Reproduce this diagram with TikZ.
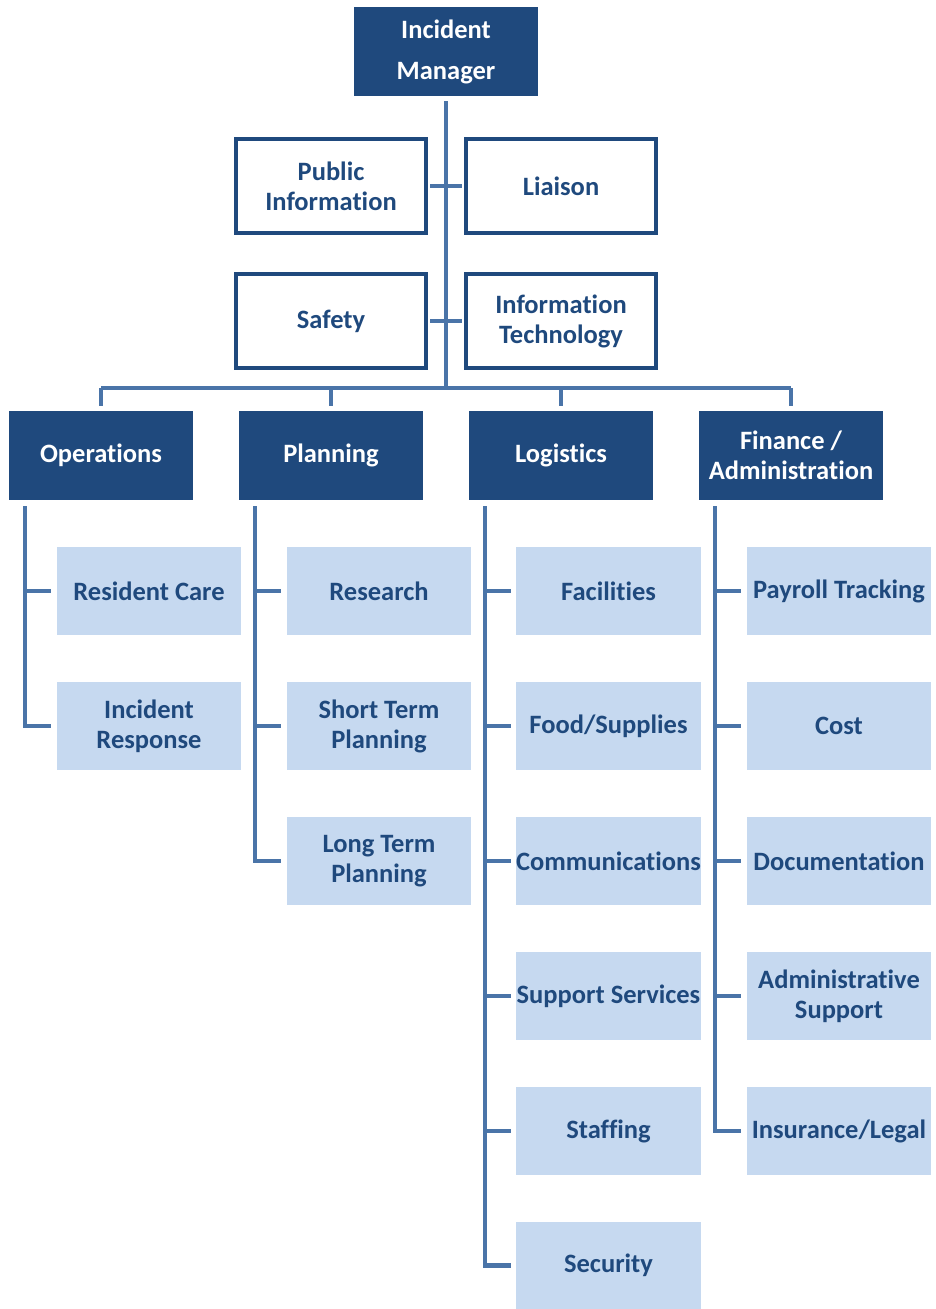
\documentclass[tikz,border=0pt]{standalone}
\usepackage{fontspec}
\setmainfont{Carlito}[Ligatures=NoCommon]
\definecolor{dkblue}{RGB}{31,73,125}
\definecolor{lnblue}{RGB}{74,116,168}
\definecolor{ltblue}{RGB}{198,217,240}
\tikzset{
  base/.style={font=\bfseries\fontsize{26.5}{30}\selectfont, align=center, inner sep=0pt},
  topbox/.style={base, fill=dkblue, text=white, minimum width=184pt, minimum height=89pt},
  staffbox/.style={base, draw=dkblue, line width=4pt, fill=white, text=dkblue, minimum width=190pt, minimum height=94pt},
  secbox/.style={base, fill=dkblue, text=white, minimum width=184pt, minimum height=89pt},
  subbox/.style={base, fill=ltblue, text=dkblue, minimum width=184pt, minimum height=88pt},
  conn/.style={draw=lnblue, line width=4.5pt},
}
\begin{document}
\begin{tikzpicture}[x=1pt,y=-1pt]
\useasboundingbox (0,0) rectangle (935,1309);
% top
\node[topbox, font=\bfseries\fontsize{26.5}{41}\selectfont] (im) at (446,51.5) {Incident\\Manager};
% staff
\node[staffbox] (pi) at (331,186) {Public\\Information};
\node[staffbox] (li) at (561,186) {Liaison};
\node[staffbox] (sa) at (331,321) {Safety};
\node[staffbox] (it) at (561,321) {Information\\Technology};
% sections
\node[secbox] (ops) at (101,455.5) {Operations};
\node[secbox] (pla) at (331,455.5) {Planning};
\node[secbox] (log) at (561,455.5) {Logistics};
\node[secbox] (fin) at (791,455.5) {Finance /\\Administration};
% subs
\node[subbox] (o1) at (149,591) {Resident Care};
\node[subbox] (o2) at (149,726) {Incident\\Response};
\node[subbox] (p1) at (379,591) {Research};
\node[subbox] (p2) at (379,726) {Short Term\\Planning};
\node[subbox] (p3) at (379,861) {Long Term\\Planning};
\node[subbox, minimum width=185pt] (l1) at (608.5,591) {Facilities};
\node[subbox, minimum width=185pt] (l2) at (608.5,726) {Food/Supplies};
\node[subbox, minimum width=185pt] (l3) at (608.5,861) {Communications};
\node[subbox, minimum width=185pt] (l4) at (608.5,996) {Support Services};
\node[subbox, minimum width=185pt] (l5) at (608.5,1131) {Staffing};
\node[subbox, minimum width=185pt, minimum height=87pt] (l6) at (608.5,1265.5) {Security};
\node[subbox] (f1) at (839,591) {Payroll Tracking};
\node[subbox] (f2) at (839,726) {Cost};
\node[subbox] (f3) at (839,861) {Documentation};
\node[subbox] (f4) at (839,996) {Administrative\\Support};
\node[subbox] (f5) at (839,1131) {Insurance/Legal};
% connectors
\coordinate (bus) at (446,388);
\draw[conn, shorten <=5pt] (im.south) -- (bus);
\draw[conn, shorten <=2pt, shorten >=2pt] (pi.east) -- (li.west);
\draw[conn, shorten <=2pt, shorten >=2pt] (sa.east) -- (it.west);
\draw[conn] (ops.north |- bus) -- (fin.north |- bus);
\foreach \s in {ops,pla,log,fin}
  \draw[conn, shorten >=5pt] (\s.north |- bus) -- (\s.north);
\coordinate (opsv) at ([xshift=16pt,yshift=-6pt]ops.south west);
\coordinate (plav) at ([xshift=16pt,yshift=-6pt]pla.south west);
\coordinate (logv) at ([xshift=16pt,yshift=-6pt]log.south west);
\coordinate (finv) at ([xshift=16pt,yshift=-6pt]fin.south west);
\foreach \c in {o1,o2} \draw[conn, shorten >=6pt] (opsv) |- (\c.west);
\foreach \c in {p1,p2,p3} \draw[conn, shorten >=6pt] (plav) |- (\c.west);
\foreach \c in {l1,l2,l3,l4,l5,l6} \draw[conn, shorten >=5pt] (logv) |- (\c.west);
\foreach \c in {f1,f2,f3,f4,f5} \draw[conn, shorten >=6pt] (finv) |- (\c.west);
\end{tikzpicture}
\end{document}
